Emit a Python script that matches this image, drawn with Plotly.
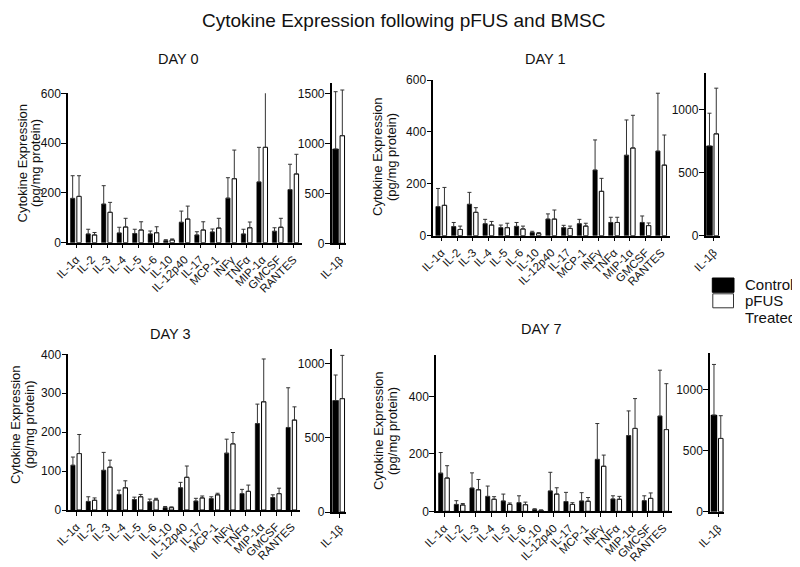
import plotly.graph_objects as go

W, H = 800, 567
PAGE_MARGIN = 8  # default body margin of the html page

categories = ["IL-1α", "IL-2", "IL-3", "IL-4", "IL-5", "IL-6", "IL-10", "IL-12p40",
              "IL-17", "MCP-1", "INFγ", "TNFα", "MIP-1α", "GMCSF", "RANTES"]
il1b_label = ["IL-1β"]

# Day 0
day0_control = [178, 35, 155, 39, 37, 35, 8, 82, 31, 43, 179, 35, 244, 46, 213]
day0_control_sem = [91, 19, 74, 23, 17, 12, 4, 45, 13, 12, 82, 19, 139, 14, 102]
day0_pfus = [186, 31, 122, 63, 51, 40, 11, 95, 51, 59, 257, 60, 383, 62, 276]
day0_pfus_sem = [83, 10, 40, 35, 33, 24, 4, 52, 33, 39, 115, 23, 221, 36, 79]
day0_il1b_control, day0_il1b_control_sem = [943], [573]
day0_il1b_pfus, day0_il1b_pfus_sem = [1076], [457]

# Day 1
day1_control = [112, 35, 121, 46, 31, 36, 12, 64, 31, 46, 253, 51, 310, 51, 326]
day1_control_sem = [70, 16, 46, 17, 10, 15, 5, 20, 9, 17, 116, 20, 136, 25, 223]
day1_pfus = [117, 24, 90, 41, 31, 26, 8, 64, 28, 37, 171, 51, 338, 39, 272]
day1_pfus_sem = [69, 13, 18, 14, 17, 11, 4, 35, 9, 11, 50, 20, 126, 10, 116]
day1_il1b_control, day1_il1b_control_sem = [713], [260]
day1_il1b_pfus, day1_il1b_pfus_sem = [809], [363]

# Day 3
day3_control = [115, 22, 102, 40, 27, 21, 6, 57, 23, 29, 146, 42, 222, 32, 212]
day3_control_sem = [21, 12, 46, 11, 6, 7, 3, 14, 7, 5, 36, 11, 50, 7, 102]
day3_pfus = [145, 25, 110, 57, 34, 26, 6, 84, 31, 39, 170, 48, 278, 42, 231]
day3_pfus_sem = [49, 6, 18, 18, 6, 4, 2, 29, 5, 4, 29, 16, 110, 14, 34]
day3_il1b_control, day3_il1b_control_sem = [750], [172]
day3_il1b_pfus, day3_il1b_pfus_sem = [763], [291]

# Day 7
day7_control = [133, 24, 81, 52, 36, 30, 6, 71, 34, 36, 181, 43, 264, 37, 332]
day7_control_sem = [72, 13, 53, 36, 24, 24, 3, 65, 32, 29, 125, 11, 86, 17, 160]
day7_pfus = [116, 22, 75, 42, 24, 23, 3, 60, 24, 35, 157, 42, 289, 45, 285]
day7_pfus_sem = [43, 5, 36, 9, 5, 9, 2, 22, 6, 13, 39, 10, 104, 19, 160]
day7_il1b_control, day7_il1b_control_sem = [790], [414]
day7_il1b_pfus, day7_il1b_pfus_sem = [599], [186]

FONT = "Liberation Sans, Arial, Helvetica, sans-serif"


def px_x(p):
    return (p - PAGE_MARGIN) / W


def px_y(p):
    return 1 - (p - PAGE_MARGIN) / H


panels = [
    dict(title="DAY 0", title_xy=(178, 59),
         main=(day0_control, day0_control_sem, day0_pfus, day0_pfus_sem),
         il1b=(day0_il1b_control, day0_il1b_control_sem, day0_il1b_pfus, day0_il1b_pfus_sem),
         main_x=(68, 302), main_y=(93.3, 242.7), main_range=600, main_dtick=200,
         b_x=(331.7, 345.5), b_y=(83.3, 243.3), b_range=1600,
         ytitle_x=(22, 35.5), ytitle_y=163.5),
    dict(title="DAY 1", title_xy=(545, 59),
         main=(day1_control, day1_control_sem, day1_pfus, day1_pfus_sem),
         il1b=(day1_il1b_control, day1_il1b_control_sem, day1_il1b_pfus, day1_il1b_pfus_sem),
         main_x=(433.3, 670), main_y=(80, 235.7), main_range=600, main_dtick=200,
         b_x=(705.5, 719.5), b_y=(73.3, 235.7), b_range=1290,
         ytitle_x=(378, 392), ytitle_y=157),
    dict(title="DAY 3", title_xy=(170.5, 334),
         main=(day3_control, day3_control_sem, day3_pfus, day3_pfus_sem),
         il1b=(day3_il1b_control, day3_il1b_control_sem, day3_il1b_pfus, day3_il1b_pfus_sem),
         main_x=(68.3, 300), main_y=(354.3, 510), main_range=400, main_dtick=100,
         b_x=(331.7, 345.5), b_y=(349.3, 512), b_range=1095,
         ytitle_x=(15, 28.5), ytitle_y=425),
    dict(title="DAY 7", title_xy=(541, 329),
         main=(day7_control, day7_control_sem, day7_pfus, day7_pfus_sem),
         il1b=(day7_il1b_control, day7_il1b_control_sem, day7_il1b_pfus, day7_il1b_pfus_sem),
         main_x=(436, 672), main_y=(355, 511.3), main_range=545, main_dtick=200,
         b_x=(710, 724), b_y=(352.7, 511.7), b_range=1300,
         ytitle_x=(378, 392), ytitle_y=431),
]

fig = go.Figure()
layout = dict(
    width=W, height=H,
    margin=dict(l=0, r=0, t=0, b=0),
    paper_bgcolor="white", plot_bgcolor="white",
    template="none",
    barmode="overlay",
    showlegend=False,
    font=dict(family=FONT, color="#111"),
)
annotations = []
shapes = []

err_style = dict(type="data", symmetric=False, color="#333", thickness=1, width=2)


def add_pair(cats, ctrl, ctrl_sem, pf, pf_sem, xa, ya, off_c, w_c, off_p, w_p):
    fig.add_trace(go.Bar(
        x=cats, y=ctrl, xaxis=xa, yaxis=ya, name="Control",
        offset=off_c, width=w_c,
        marker=dict(color="black", line=dict(color="black", width=0.5)),
        error_y=dict(array=ctrl_sem, arrayminus=[0] * len(ctrl), **err_style),
    ))
    fig.add_trace(go.Bar(
        x=cats, y=pf, xaxis=xa, yaxis=ya, name="pFUS Treated",
        offset=off_p, width=w_p,
        marker=dict(color="white", line=dict(color="black", width=1)),
        error_y=dict(array=pf_sem, arrayminus=[0] * len(pf), **err_style),
    ))


def axis_x(domain, anchor, cats, rng):
    return dict(domain=domain, anchor=anchor, type="category",
                categoryorder="array", categoryarray=cats, range=rng,
                showline=True, linecolor="black", linewidth=1.5,
                ticks="outside", ticklen=4, tickwidth=1.2, tickcolor="black",
                tickangle=-45, tickfont=dict(size=11.5, family=FONT, color="#111"),
                showgrid=False, zeroline=False, fixedrange=True)


def axis_y(domain, anchor, rng, dtick):
    return dict(domain=domain, anchor=anchor, range=[0, rng], dtick=dtick,
                tick0=0, showline=True, linecolor="black", linewidth=1.5,
                ticks="outside", ticklen=5, tickwidth=1.2, tickcolor="black",
                ticklabelstandoff=-2,
                tickfont=dict(size=12, family=FONT, color="#111"),
                showgrid=False, zeroline=False, fixedrange=True)


idx = 1
for p in panels:
    # main panel
    xa_name = "x" if idx == 1 else f"x{idx}"
    ya_name = "y" if idx == 1 else f"y{idx}"
    xkey = "xaxis" if idx == 1 else f"xaxis{idx}"
    ykey = "yaxis" if idx == 1 else f"yaxis{idx}"
    c, cs, pf, pfs = p["main"]
    add_pair(categories, c, cs, pf, pfs, xa_name, ya_name, -0.36, 0.28, 0.05, 0.28)
    layout[xkey] = axis_x([px_x(p["main_x"][0]), px_x(p["main_x"][1])], ya_name,
                          categories, [-0.52, 14.55])
    layout[ykey] = axis_y([px_y(p["main_y"][1]), px_y(p["main_y"][0])], xa_name,
                          p["main_range"], p["main_dtick"])
    idx += 1

    # IL-1β panel
    xa_name = f"x{idx}"
    ya_name = f"y{idx}"
    c, cs, pf, pfs = p["il1b"]
    add_pair(il1b_label, c, cs, pf, pfs, xa_name, ya_name, -0.53, 0.44, 0.02, 0.33)
    layout[f"xaxis{idx}"] = axis_x([px_x(p["b_x"][0]), px_x(p["b_x"][1])], ya_name,
                                   il1b_label, [-0.6, 0.42])
    layout[f"yaxis{idx}"] = axis_y([px_y(p["b_y"][1]), px_y(p["b_y"][0])], xa_name,
                                   p["b_range"], 500)
    idx += 1

    # panel title
    annotations.append(dict(text=p["title"], x=px_x(p["title_xy"][0]), y=px_y(p["title_xy"][1]),
                            xref="paper", yref="paper", showarrow=False,
                            xanchor="center", yanchor="middle",
                            font=dict(size=14.5, family=FONT, color="#111")))
    # y-axis titles (two lines)
    for txt, xx in zip(["Cytokine Expression", "(pg/mg protein)"], p["ytitle_x"]):
        annotations.append(dict(text=txt, x=px_x(xx), y=px_y(p["ytitle_y"]),
                                xref="paper", yref="paper", showarrow=False,
                                textangle=-90, xanchor="center", yanchor="middle",
                                font=dict(size=13, family=FONT, color="#111")))

# main title
annotations.append(dict(text="Cytokine Expression following pFUS and BMSC",
                        x=px_x(403), y=px_y(8), xref="paper", yref="paper",
                        showarrow=False, xanchor="center", yanchor="top",
                        font=dict(size=19, family=FONT, color="#111")))

# legend
shapes.append(dict(type="rect", xref="paper", yref="paper",
                   x0=px_x(712.3), x1=px_x(734), y0=px_y(292.3), y1=px_y(278),
                   fillcolor="black", line=dict(color="black", width=1)))
shapes.append(dict(type="rect", xref="paper", yref="paper",
                   x0=px_x(712.8), x1=px_x(733.5), y0=px_y(307.8), y1=px_y(293.8),
                   fillcolor="white", line=dict(color="#333", width=1)))
for txt, yy in [("Control", 285), ("pFUS", 300), ("Treated", 317.5)]:
    annotations.append(dict(text=txt, x=px_x(743), y=px_y(yy), xref="paper", yref="paper",
                            showarrow=False, xanchor="left", yanchor="middle",
                            font=dict(size=15, family=FONT, color="#111")))

layout["annotations"] = annotations
layout["shapes"] = shapes
fig.update_layout(**layout)
fig.write_html("out.html")
